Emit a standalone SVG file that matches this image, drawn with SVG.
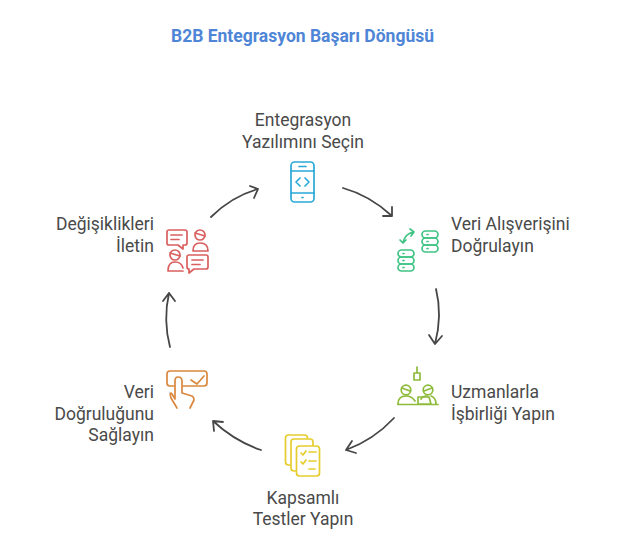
<svg xmlns="http://www.w3.org/2000/svg" width="624" height="547" viewBox="0 0 624 547">
<style>
text{font-family:"Roboto","Liberation Sans",sans-serif;font-size:17.5px;fill:#4a4a4a}
.title{font-weight:700;fill:#4f85d6}
.c{fill:none;stroke:#464646;stroke-width:1.8;stroke-linecap:round;stroke-linejoin:round}
.i{fill:none;stroke-width:1.7;stroke-linecap:round;stroke-linejoin:round}
.w{fill:#fff}
.b{stroke:#2aa9d8}.g{stroke:#3fc484}.l{stroke:#8dbb3a}.y{stroke:#e6cd2e}.o{stroke:#d9883f}.r{stroke:#d9605f}
</style>
<rect width="624" height="547" fill="#fff"/>
<text class="title" x="302.500" y="41.500" text-anchor="middle">B2B Entegrasyon Başarı Döngüsü</text>
<g id="connectors">
<path class="c" d="M211 217C224 204 240 194 258 189M250 186L258 189L254 198"/>
<path class="c" d="M343 188C361 193 378 203 392 216M383 216L392 216L392 207"/>
<path class="c" d="M436 289C441 309 440 325 435 344M429 335L435 344L442 336"/>
<path class="c" d="M394 418C381 432 365 443 346 450M352 441L346 450L356 453"/>
<path class="c" d="M261 450C243 444 227 434 213 421M223 422L213 421L214 431"/>
<path class="c" d="M170 347C165 328 165 311 169 293M163 301L169 293L175 301"/>
</g>
<g id="node-1">
<rect class="i b" x="291" y="162" width="23" height="40" rx="3.500"/>
<path class="i b" d="M291 171H314M291 193H314M299 166.500H306M302 197.500H303M300 178L296 182L300 186M305 178L309 182L305 186"/>
<text text-anchor="middle" x="303" y="125.500">Entegrasyon</text>
<text text-anchor="middle" x="303" y="147.500">Yazılımını Seçin</text>
</g>
<g id="node-2">
<rect class="i g" x="422" y="231" width="16" height="7" rx="3.500"/>
<rect class="i g" x="422" y="238" width="16" height="7" rx="3.500"/>
<rect class="i g" x="422" y="245" width="16" height="7" rx="3.500"/>
<rect class="i g" x="398" y="250" width="16" height="7" rx="3.500"/>
<rect class="i g" x="398" y="257" width="16" height="7" rx="3.500"/>
<rect class="i g" x="398" y="264" width="16" height="7" rx="3.500"/>
<path class="i g" d="M427 234.500H428M427 241.500H428M427 248.500H428M403 253.500H404M403 260.500H404M403 267.500H404"/>
<path class="i g" d="M403 243C404 237 408 233 414 232M410 229L414 232L411 236M400 240L403 243L406 240"/>
<text x="451" y="229.500">Veri Alışverişini</text>
<text x="451" y="251.500">Doğrulayın</text>
</g>
<g id="node-3">
<path class="i l" d="M417 367V373M414 373H420V380H414ZM398 404C398 398 402 396 406 396C410 396 413 398 415 401M427 396C424 396 422 397 421 399M436 404C436 400 434 397 431 396"/>
<circle class="i l" cx="406" cy="390" r="4.800"/>
<circle class="i l" cx="428" cy="390" r="4.800"/>
<path class="i l" d="M402 388L410 391M424 391L432 388M418 397H429L431 404H418ZM398 404.500H438"/>
<text x="451" y="397.500">Uzmanlarla</text>
<text x="451" y="419.500">İşbirliği Yapın</text>
</g>
<g id="node-4">
<rect class="i y w" x="285.500" y="435" width="22" height="30" rx="3"/>
<rect class="i y w" x="291" y="439" width="22" height="32" rx="3"/>
<rect class="i y w" x="296.500" y="446" width="23" height="30" rx="3"/>
<path class="i y" d="M301 453L303 455L306 451M309 452H316M301 462L303 464L306 460M309 461H316M309 469H315"/>
<text text-anchor="middle" x="303" y="503.500">Kapsamlı</text>
<text text-anchor="middle" x="303" y="524.500">Testler Yapın</text>
</g>
<g id="node-5">
<path class="i o" d="M174 386H170Q167 386 167 383V374Q167 371 170 371H204Q207 371 207 374V383Q207 386 204 386H183"/>
<path class="i o" d="M191 380L197 384L204 376M182 393V381Q182 377 178 377Q175 377 175 381V399L172 394Q169 391 171 398L177 408M182 393L192 396Q194 397 194 400L190 408"/>
<text text-anchor="end" x="154" y="397.500">Veri</text>
<text text-anchor="end" x="154" y="419.500">Doğruluğunu</text>
<text text-anchor="end" x="154" y="440.500">Sağlayın</text>
</g>
<g id="node-6">
<path class="i r" d="M169 230H185Q187 230 187 232V243Q187 245 185 245H183V249L178 245H169Q167 245 167 243V232Q167 230 169 230ZM171 235H182M171 239.500H179"/>
<path class="i r" d="M189 255H206Q208 255 208 257V267Q208 269 206 269H194L189 273V269Q187 269 187 267V257Q187 255 189 255ZM192 260H203M192 264.500H200"/>
<circle class="i r" cx="200" cy="235" r="5"/>
<path class="i r" d="M195 233L205 236M193 251C193 245 196 243 200 243C205 243 208 246 208 251Z"/>
<circle class="i r" cx="175" cy="255" r="5"/>
<path class="i r" d="M170 253L180 256M168 271C168 265 171 262 175 262C179 262 182 264 183 268M168 271H183"/>
<text text-anchor="end" x="154" y="229.500">Değişiklikleri</text>
<text text-anchor="end" x="154" y="251.500">İletin</text>
</g>
</svg>
